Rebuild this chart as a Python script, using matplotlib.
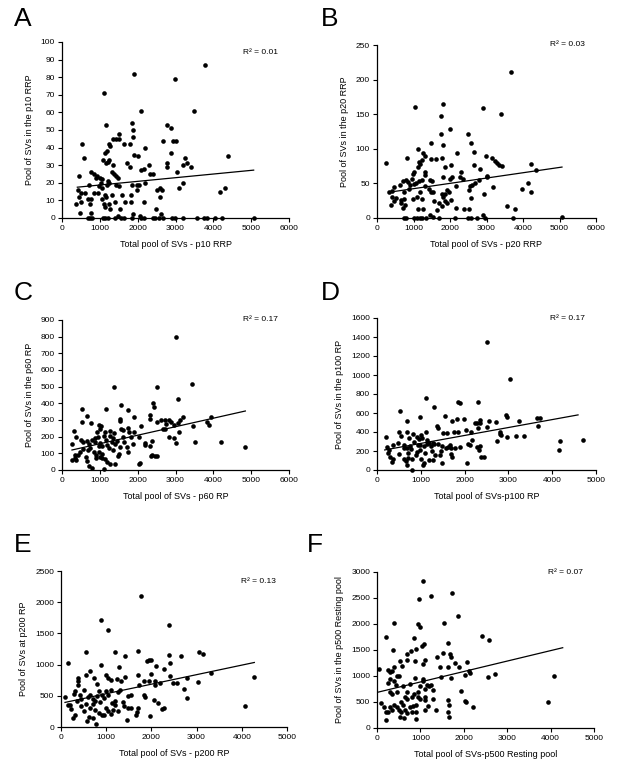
import matplotlib
matplotlib.use('Agg')
import matplotlib.pyplot as plt

plt.rcParams['font.family'] = ['Liberation Sans', 'DejaVu Sans']

W, H = 617, 765

# panel A: p10 RRP
pts_a = [(3790, 87), (1894, 82), (2978, 79), (1110, 71), (3480, 61), (2080, 61), (1850, 54), (1170, 53),
         (2784, 53), (2890, 51), (1880, 50), (1507, 48), (1340, 45), (1430, 45), (1500, 45), (1880, 46),
         (537, 42), (1233, 42), (1640, 42), (1806, 42), (2203, 40), (2933, 44), (3022, 44), (2678, 44),
         (1260, 41), (1190, 38), (1137, 37), (2890, 37), (1912, 36), (2018, 35), (4379, 35), (3260, 34),
         (590, 34), (1242, 33), (1093, 33), (1163, 31), (1207, 32), (1718, 31), (2784, 31), (2784, 29),
         (3313, 31), (3198, 30), (3401, 29), (1806, 29), (1357, 30), (2308, 30), (2326, 25), (2396, 25),
         (2167, 28), (2080, 27), (3031, 26), (775, 26), (846, 25), (925, 24), (1057, 22), (995, 23),
         (899, 23), (449, 24), (1330, 26), (1366, 25), (1419, 24), (1480, 23), (1216, 21), (1251, 20),
         (1040, 20), (1859, 19), (1991, 19), (2026, 19), (2194, 20), (3198, 20), (722, 19), (1180, 19),
         (1436, 19), (987, 18), (1066, 17), (1498, 18), (1982, 16), (2520, 16), (2599, 17), (2634, 16),
         (3084, 17), (4300, 17), (4167, 15), (423, 16), (511, 14), (617, 14), (846, 14), (960, 14),
         (1128, 13), (1322, 13), (1577, 13), (1833, 13), (2581, 12), (449, 12), (1048, 11), (1163, 12),
         (678, 11), (775, 11), (502, 9), (379, 8), (1110, 8), (1251, 8), (1401, 9), (1665, 9),
         (2159, 9), (1833, 9), (740, 8), (1137, 6), (1542, 5), (2493, 5), (1260, 5), (467, 3),
         (758, 3), (1868, 2), (2625, 2), (2053, 1), (1489, 1),
         (696, 0), (740, 0), (793, 0), (1084, 0), (1137, 0), (1216, 0), (1401, 0), (1568, 0),
         (1630, 0), (1841, 0), (2088, 0), (2159, 0), (2396, 0), (2449, 0), (2555, 0), (2661, 0),
         (2916, 0), (2987, 0), (3207, 0), (3568, 0), (3762, 0), (3824, 0), (4035, 0), (4238, 0), (5066, 0)]

# panel B: p20 RRP
pts_b = [(3665, 211), (1805, 165), (1048, 160), (2917, 159), (3391, 150), (1750, 147), (2005, 129),
         (1759, 121), (2489, 121), (1796, 105), (2589, 108), (1468, 109), (1121, 99), (2644, 95),
         (2179, 94), (1249, 94), (1313, 90), (2990, 90), (820, 87), (1787, 86), (1468, 85), (1614, 85),
         (3145, 86), (3236, 82), (3291, 79), (3346, 77), (3418, 75), (2644, 76), (2826, 71), (246, 79),
         (1139, 81), (1176, 78), (1240, 84), (4230, 78), (4357, 70), (1112, 74), (1869, 74), (2033, 76),
         (2297, 67), (1021, 67), (985, 64), (1304, 67), (1322, 62), (1440, 55), (784, 55), (839, 52),
         (456, 45), (1149, 54), (1231, 55), (1495, 53), (2005, 56), (2060, 59), (2361, 56), (2261, 59),
         (1805, 59), (3017, 61), (3017, 59), (2789, 55), (2607, 47), (2698, 50), (4148, 51), (3974, 42),
         (4221, 38), (3172, 45), (711, 53), (957, 56), (638, 48), (1021, 49), (912, 48), (1057, 51),
         (875, 42), (1313, 46), (1413, 42), (1468, 38), (1541, 37), (1914, 41), (2170, 46), (2516, 41),
         (2553, 46), (410, 39), (319, 38), (729, 37), (1167, 38), (1978, 37), (1768, 34), (1869, 34),
         (2944, 35), (410, 31), (520, 29), (665, 26), (748, 28), (975, 28), (1094, 31), (1231, 28),
         (1568, 25), (1814, 30), (1851, 25), (2024, 26), (2580, 29), (1686, 22), (1787, 18), (1905, 22),
         (392, 19), (474, 24), (647, 21), (757, 19), (711, 14), (1121, 13), (1267, 13), (1650, 12),
         (2151, 14), (2388, 13), (2525, 13), (3774, 13), (3555, 18), (1459, 4), (1532, 2), (2917, 4),
         (5059, 1),
         (738, 0), (802, 0), (1012, 0), (1094, 0), (1167, 0), (1231, 0), (1331, 0), (1705, 0),
         (2124, 0), (2498, 0), (2580, 0), (2735, 0), (2963, 0), (3737, 0)]

# panel C: p60 RP
pts_c = [(3022, 796), (3445, 514), (1374, 498), (2520, 496), (3066, 424), (1559, 392), (2405, 400),
         (2441, 376), (529, 368), (1172, 368), (1736, 358), (661, 324), (2326, 328), (1912, 316),
         (3189, 316), (3930, 320), (2731, 302), (2608, 300), (1524, 306), (1533, 292), (2317, 306),
         (2511, 290), (2819, 302), (2890, 286), (3110, 300), (3057, 284), (2952, 270), (2758, 274),
         (3841, 290), (3885, 270), (3471, 264), (3084, 226), (2731, 248), (2670, 248), (2079, 266),
         (969, 270), (1022, 266), (520, 288), (767, 280), (326, 234), (379, 196), (1260, 234),
         (996, 244), (1551, 248), (1612, 242), (1753, 252), (1771, 230), (1903, 230), (1383, 224),
         (1145, 226), (1110, 204), (960, 200), (863, 190), (1269, 202), (1348, 194), (1313, 166),
         (1401, 156), (670, 176), (511, 180), (564, 170), (705, 156), (255, 156), (881, 168),
         (978, 146), (1066, 144), (1824, 196), (2026, 196), (2185, 164), (2379, 174), (2828, 196),
         (2969, 194), (3022, 164), (3524, 166), (4194, 166), (4837, 136), (1877, 158), (1648, 170),
         (1524, 136), (1744, 110), (1727, 136), (2194, 148), (2326, 146), (2388, 92), (2458, 82),
         (2502, 86), (2352, 82), (335, 92), (344, 72), (264, 60), (361, 60), (414, 92), (643, 78),
         (670, 56), (705, 24), (784, 10), (890, 90), (1004, 78), (1048, 72), (899, 70), (1145, 64),
         (1189, 46), (1260, 38), (1410, 38), (1471, 86), (1515, 98), (978, 108), (1057, 98),
         (1110, 4), (2035, 36), (2070, 44), (749, 130), (555, 124), (678, 122), (467, 108),
         (800, 180), (920, 230), (1200, 150), (1350, 120), (1600, 200), (1000, 160), (850, 110),
         (1150, 180), (1450, 175), (1250, 130)]

# panel D: p100 RP
pts_d = [(2515, 1343), (3047, 953), (1117, 763), (2310, 721), (1854, 717), (1900, 703), (1292, 661),
         (532, 626), (2941, 580), (2964, 563), (1543, 566), (684, 517), (988, 556), (1717, 517),
         (1824, 541), (1983, 541), (2234, 492), (2363, 527), (2546, 520), (2713, 503), (2287, 499),
         (3237, 517), (3663, 552), (3723, 552), (3670, 464), (3176, 355), (3366, 355), (2812, 404),
         (2804, 383), (2834, 369), (2979, 345), (2736, 306), (4172, 309), (4696, 316), (4149, 211),
         (2356, 499), (2508, 457), (2302, 440), (2150, 397), (2021, 418), (1854, 404), (1748, 404),
         (1604, 394), (1383, 443), (1360, 468), (1497, 394), (1109, 404), (691, 401), (502, 404),
         (555, 359), (828, 383), (904, 352), (1011, 369), (1034, 334), (722, 338), (205, 348),
         (228, 243), (357, 260), (274, 211), (258, 183), (296, 137), (357, 112), (342, 81), (471, 288),
         (608, 267), (691, 236), (608, 236), (745, 250), (783, 222), (509, 169), (623, 112), (654, 98),
         (699, 130), (676, 56), (790, 0), (889, 158), (919, 186), (973, 211), (935, 264), (980, 260),
         (1071, 253), (1140, 274), (1185, 288), (1239, 250), (1277, 288), (1307, 271), (1391, 274),
         (1474, 250), (1565, 232), (1626, 239), (1657, 264), (1679, 229), (1786, 236), (1885, 246),
         (1694, 169), (1717, 137), (1467, 204), (1429, 155), (1330, 155), (1277, 102), (1185, 105),
         (1071, 74), (1049, 56), (1489, 77), (2059, 77), (2082, 274), (2128, 264), (2173, 313),
         (2272, 243), (2325, 214), (2371, 137), (2454, 134), (2363, 257),
         (850, 300), (950, 330), (1100, 180), (1250, 200), (800, 120), (1000, 120), (700, 180),
         (1150, 320)]

# panel E: p200 RP
pts_e = [(1777, 2100), (892, 1716), (1032, 1562), (2389, 1631), (560, 1194), (1187, 1194),
         (1696, 1221), (3053, 1194), (3134, 1173), (1423, 1141), (2397, 1151), (2661, 1141),
         (147, 1029), (1947, 1066), (1895, 1061), (1984, 1077), (2404, 1029), (892, 997), (1290, 959),
         (2094, 976), (2286, 922), (649, 901), (383, 778), (1003, 831), (1041, 789), (1114, 757),
         (1246, 773), (1320, 736), (553, 831), (723, 778), (804, 693), (1416, 794), (1696, 837),
         (1984, 848), (1940, 741), (1829, 730), (1718, 666), (2080, 736), (2080, 666), (2198, 709),
         (2412, 821), (2485, 698), (2559, 698), (2795, 784), (3319, 864), (3024, 714), (2715, 608),
         (4277, 794), (4063, 336), (369, 736), (383, 666), (501, 586), (310, 570), (295, 533),
         (413, 512), (649, 517), (833, 581), (996, 570), (1106, 586), (1268, 554), (1490, 490),
         (1549, 512), (1829, 506), (1866, 480), (2050, 432), (2153, 384), (2242, 288), (2286, 309),
         (1976, 176), (2788, 464), (1696, 309), (1682, 235), (1453, 112), (1482, 304), (1372, 394),
         (1121, 384), (1150, 272), (870, 394), (900, 197), (752, 277), (708, 368), (546, 362),
         (619, 165), (575, 101), (767, 53), (214, 282), (155, 357), (88, 474), (258, 139),
         (350, 420), (450, 450), (600, 480), (700, 450), (800, 500), (900, 520), (950, 460),
         (1050, 520), (1200, 420), (1300, 600), (1550, 300), (1650, 200), (1400, 330), (1000, 300),
         (850, 230), (950, 200), (1100, 210), (1250, 250), (700, 150), (500, 250), (450, 330),
         (300, 200), (200, 350), (650, 300), (760, 420), (1030, 250), (1200, 350)]

# panel F: p500 resting pool
pts_f = [(1058, 2821), (1733, 2591), (1242, 2540), (966, 2482), (1863, 2151), (391, 2017), (936, 1991),
         (989, 1934), (1541, 2017), (2408, 1774), (2577, 1691), (215, 1755), (859, 1729), (1641, 1627),
         (1074, 1621), (1028, 1570), (889, 1519), (790, 1474), (682, 1423), (376, 1493), (1373, 1366),
         (1526, 1449), (1672, 1423), (1710, 1372), (1794, 1257), (2071, 1270), (1104, 1302),
         (1051, 1238), (537, 1289), (399, 1174), (575, 1193), (698, 1302), (882, 1296), (1457, 1168),
         (1641, 1181), (1879, 1168), (2124, 1104), (2132, 1066), (1465, 989), (1695, 957), (2569, 976),
         (2730, 1034), (2032, 1027), (4087, 996), (3934, 504), (38, 1130), (253, 1117), (291, 1078),
         (307, 938), (261, 874), (452, 1008), (437, 836), (882, 957), (1058, 938), (1066, 906),
         (1158, 836), (1250, 823), (1288, 734), (1925, 702), (2017, 517), (2055, 491), (2209, 402),
         (1641, 530), (1649, 447), (1633, 306), (1656, 211), (1357, 351), (1281, 562), (1173, 428),
         (1112, 543), (1097, 338), (897, 306), (905, 179), (828, 428), (614, 191), (537, 211),
         (84, 479), (207, 313), (215, 153),
         (300, 700), (350, 650), (400, 450), (450, 400), (500, 350), (550, 500), (600, 450), (650, 600),
         (700, 550), (750, 400), (800, 600), (850, 650), (950, 700), (1000, 800), (1100, 750),
         (300, 400), (350, 350), (250, 300), (150, 400), (450, 700), (550, 300), (650, 350), (700, 280),
         (800, 300), (900, 450), (1000, 550), (1100, 600), (1200, 800), (600, 800), (400, 900),
         (500, 1000), (700, 700), (750, 850), (350, 1100), (950, 600)]

# excel-style linear trendlines: (x0, x1), (y0, y1)
trend_a = ((405, 5066), (17.5, 27.2))
trend_b = ((365, 5068), (37.5, 73.6))
trend_c = ((264, 4846), (120, 354))
trend_d = ((175, 4590), (211, 580))
trend_e = ((88, 4277), (394, 1034))
trend_f = ((23, 4279), (689, 1544))

r2_values = ['0.01', '0.03', '0.17', '0.17', '0.13', '0.07']
panel_letters = ['A', 'B', 'C', 'D', 'E', 'F']
x_labels = ['Total pool of SVs - p10 RRP', 'Total pool of SVs - p20 RRP',
            'Total pool of SVs - p60 RP', 'Total pool of SVs-p100 RP',
            'Total pool of SVs - p200 RP', 'Total pool of SVs-p500 Resting pool']
y_labels = ['Pool of SVs in the p10 RRP', 'Pool of SVs in the p20 RRP',
            'Pool of SVs in the p60 RP', 'Pool of SVs in the p100 RP',
            'Pool of SVs at p200 RP', 'Pool of SVs in the p500 Resting pool']
x_max = [6000, 6000, 6000, 5000, 5000, 5000]
x_step = [1000, 1000, 1000, 1000, 1000, 1000]
y_max = [100, 250, 900, 1600, 2500, 3000]
y_step = [10, 50, 100, 200, 500, 500]

# axes boxes in pixels: left, right, top, bottom
boxes = [(62, 289, 42, 218), (377, 596, 45, 218),
         (62, 289, 320, 470), (377, 596, 318, 470),
         (61, 287, 571, 727), (377, 594, 572, 728)]
letter_pos = [(14, 26), (321, 26), (14, 300), (321, 300), (14, 552), (307, 552)]
r2_ypos = [0.94, 1.0, 1.0, 1.0, 0.93, 1.0]

all_pts = [pts_a, pts_b, pts_c, pts_d, pts_e, pts_f]
all_trends = [trend_a, trend_b, trend_c, trend_d, trend_e, trend_f]

fig = plt.figure(figsize=(W / 100, H / 100), dpi=100)

for i in range(6):
    l, r, t, b = boxes[i]
    ax = fig.add_axes([l / W, (H - b) / H, (r - l) / W, (b - t) / H])
    xs = [p[0] for p in all_pts[i]]
    ys = [p[1] for p in all_pts[i]]
    ax.scatter(xs, ys, s=11, color='black', linewidths=0, clip_on=False, zorder=3)
    tx, ty = all_trends[i]
    ax.plot(tx, ty, color='black', lw=0.9, zorder=2)

    ax.set_xlim(0, x_max[i])
    ax.set_ylim(0, y_max[i])
    ax.set_xticks(range(0, x_max[i] + 1, x_step[i]))
    ax.set_yticks(range(0, y_max[i] + 1, y_step[i]))
    for side in ['top', 'right']:
        ax.spines[side].set_visible(False)
    for side in ['left', 'bottom']:
        ax.spines[side].set_linewidth(0.9)
    ax.tick_params(direction='out', length=3, width=0.8, labelsize=6, pad=2, colors='black')

    ax.set_xlabel(x_labels[i], fontsize=6.5, labelpad=6)
    ax.set_ylabel(y_labels[i], fontsize=6.5, labelpad=5)
    ax.text(0.95, r2_ypos[i], 'R² = ' + r2_values[i], transform=ax.transAxes,
            ha='right', va='center', fontsize=6)

    lx, ly = letter_pos[i]
    fig.text(lx / W, 1 - ly / H, panel_letters[i], fontsize=19, ha='left', va='baseline')

fig.savefig('out.png', dpi=100)
